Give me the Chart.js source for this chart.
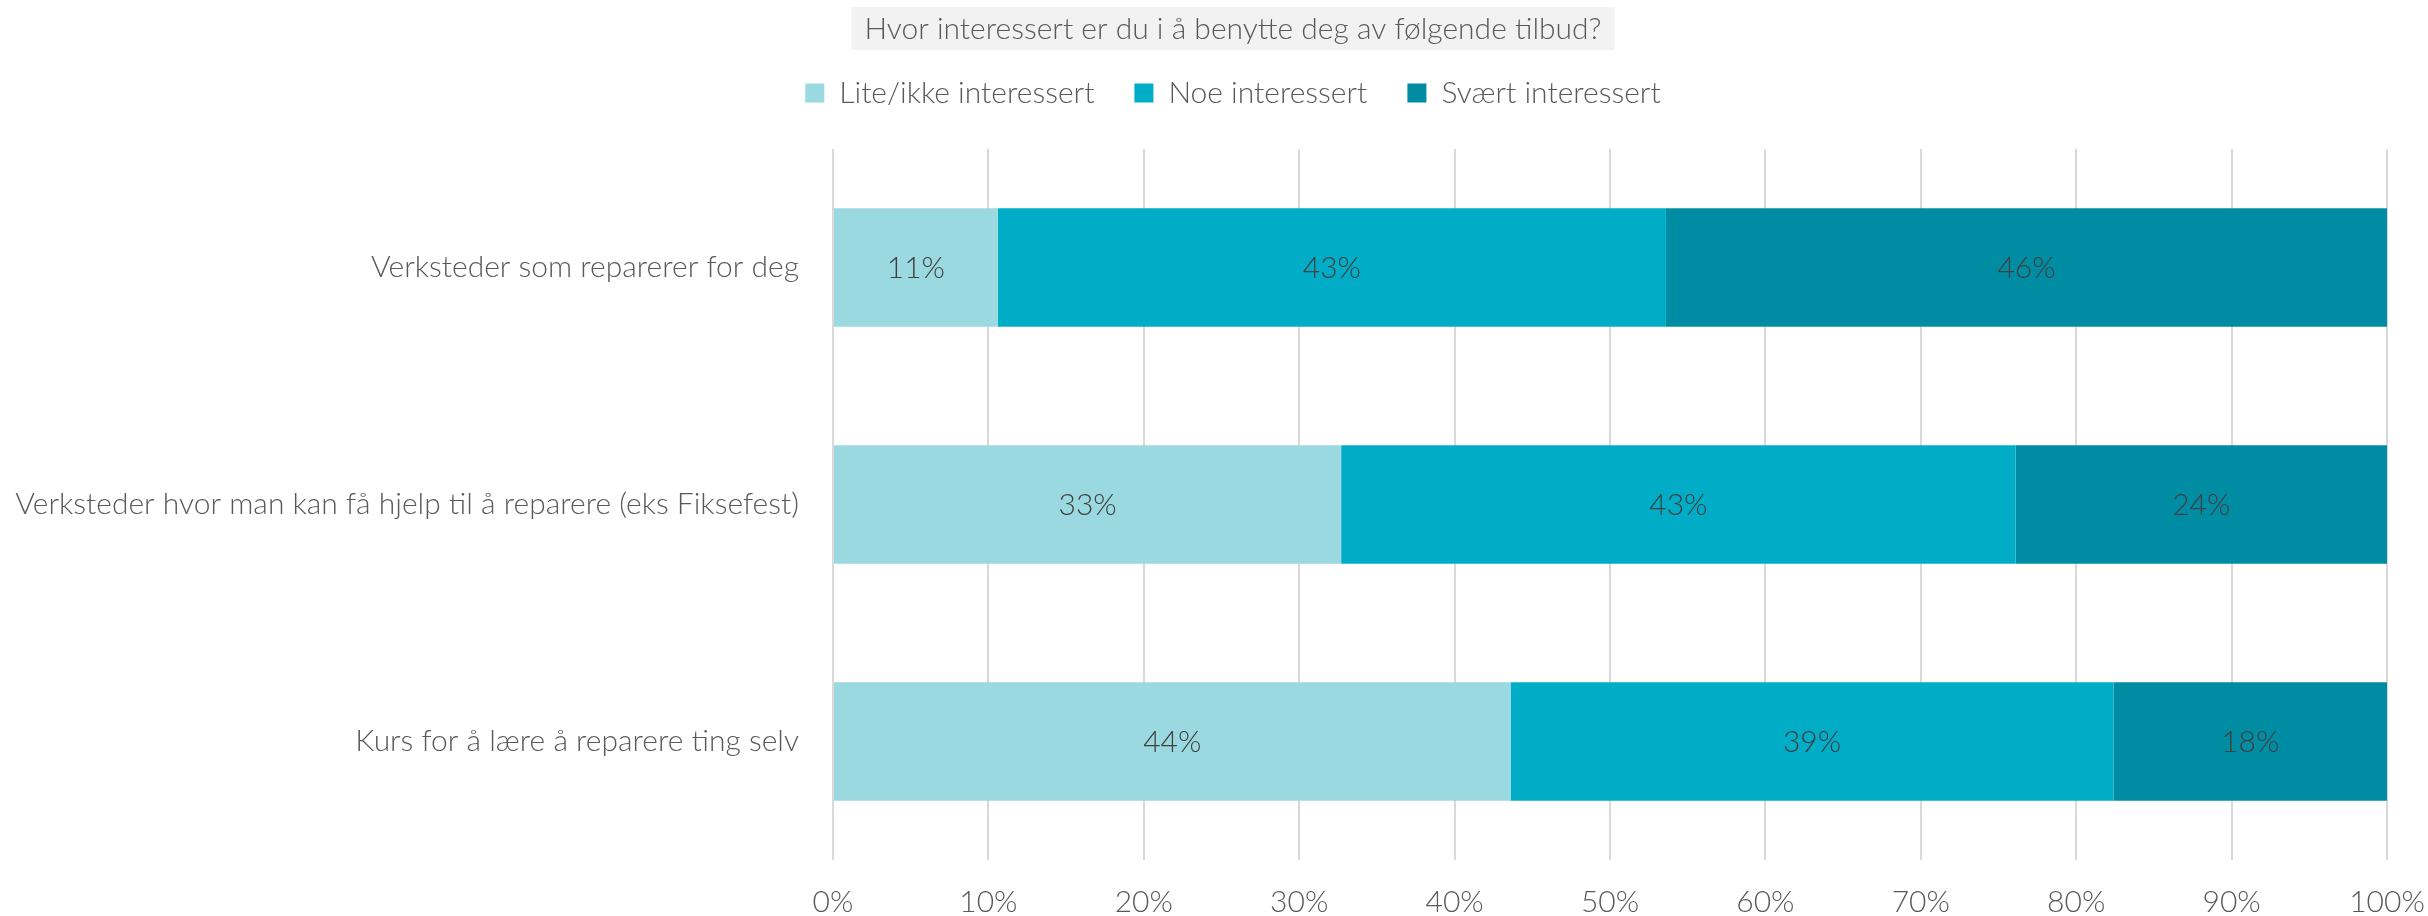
<!DOCTYPE html>
<html>
<head>
<meta charset="utf-8">
<script src="https://cdn.jsdelivr.net/npm/chart.js@4/dist/chart.umd.min.js"></script>
<style>
  html, body { margin: 0; padding: 0; background: #fff; }
</style>
</head>
<body>
<canvas id="grafica" width="2428" height="916"></canvas>
<script>
const tittel = 'Hvor interessert er du i å benytte deg av følgende tilbud?';
const kategorier = [
  'Verksteder som reparerer for deg',
  'Verksteder hvor man kan få hjelp til å reparere (eks Fiksefest)',
  'Kurs for å lære å reparere ting selv'
];
const serier = ['Lite/ikke interessert', 'Noe interessert', 'Svært interessert'];
const liteIkke = [10.6, 32.7, 43.6];
const noe = [43.0, 43.4, 38.8];
const svaert = [46.4, 23.9, 17.6];
const prosentTicks = [0, 10, 20, 30, 40, 50, 60, 70, 80, 90, 100];

const farger = ['#9BD9E0', '#00ACC6', '#008DA3'];
const skrift = 'Lato';
const str = 30;
const tittelTopp = 11;

// grå boks bak tittelen
const tittelBoks = {
  id: 'tittelBoks',
  beforeDraw(chart) {
    const t = chart.titleBlock;
    if (!t) return;
    const ctx = chart.ctx;
    ctx.save();
    ctx.font = `300 ${str}px ${skrift}`;
    const w = ctx.measureText(tittel).width;
    const cx = (t.left + t.right) / 2;
    const cy = t.top + tittelTopp + str * 1.2 / 2;
    ctx.fillStyle = '#F2F2F2';
    ctx.fillRect(cx - w / 2 - 13, cy - 22, w + 26, 43);
    ctx.restore();
  }
};

// litt ekstra luft mellom legenden og plottet
const legendeLuft = {
  id: 'legendeLuft',
  afterInit(chart) {
    const fit = chart.legend.fit;
    chart.legend.fit = function () {
      fit.call(this);
      this.height += 31;
    };
  }
};

// lange kategorinavn skal ikke klippes av venstremargen
const fullVenstre = {
  id: 'fullVenstre',
  afterLayout(chart) {
    chart.scales.y.left = 0;
  }
};

// prosenttall midt i hvert segment
const verdiEtiketter = {
  id: 'verdiEtiketter',
  afterDatasetsDraw(chart) {
    const ctx = chart.ctx;
    ctx.save();
    ctx.font = `300 ${str}px ${skrift}`;
    ctx.fillStyle = '#404040';
    ctx.textAlign = 'center';
    ctx.textBaseline = 'middle';
    chart.data.datasets.forEach((ds, i) => {
      chart.getDatasetMeta(i).data.forEach((bar, j) => {
        const x = (bar.x + bar.base) / 2;
        ctx.fillText(Math.round(ds.data[j]) + '%', x, bar.y + 1);
      });
    });
    ctx.restore();
  }
};

const ctx = document.getElementById('grafica').getContext('2d');

new Chart(ctx, {
  type: 'bar',
  data: {
    labels: kategorier,
    datasets: [
      { label: serier[0], data: liteIkke, backgroundColor: farger[0] },
      { label: serier[1], data: noe, backgroundColor: farger[1] },
      { label: serier[2], data: svaert, backgroundColor: farger[2] }
    ]
  },
  options: {
    indexAxis: 'y',
    responsive: false,
    animation: false,
    devicePixelRatio: 1,
    categoryPercentage: 1,
    barPercentage: 0.5,
    layout: { padding: { left: 79, right: 41, top: 0, bottom: 0 } },
    plugins: {
      tooltip: { enabled: false },
      title: {
        display: true,
        text: tittel,
        color: '#595959',
        font: { family: skrift, size: str, weight: '300' },
        padding: { top: tittelTopp, bottom: -9 }
      },
      legend: {
        position: 'top',
        labels: {
          color: '#595959',
          font: { family: skrift, size: str, weight: '300' },
          boxWidth: 19,
          boxHeight: 19,
          padding: 40
        }
      }
    },
    scales: {
      x: {
        stacked: true,
        min: 0,
        max: 100,
        afterBuildTicks: axis => { axis.ticks = prosentTicks.map(v => ({ value: v })); },
        afterFit: axis => {
          axis.height = 56;
          axis.paddingLeft = 0;
          axis.paddingRight = 0;
        },
        grid: { color: '#D9D9D9', lineWidth: 2, drawTicks: false },
        border: { display: false },
        ticks: {
          color: '#595959',
          font: { family: skrift, size: str, weight: '300' },
          padding: 24,
          callback: v => v + '%'
        }
      },
      y: {
        stacked: true,
        afterFit: axis => { axis.width = 754; },
        grid: { display: false },
        border: { display: false },
        ticks: {
          color: '#595959',
          font: { family: skrift, size: str, weight: '300' },
          padding: 26
        }
      }
    }
  },
  plugins: [tittelBoks, legendeLuft, fullVenstre, verdiEtiketter]
});
</script>
</body>
</html>
